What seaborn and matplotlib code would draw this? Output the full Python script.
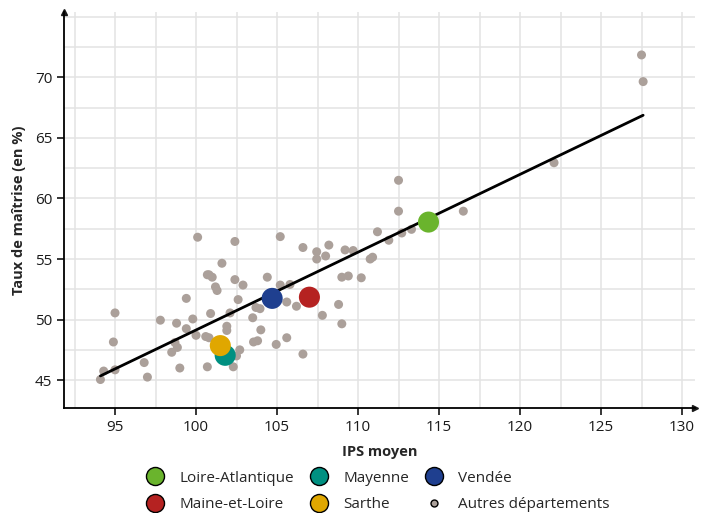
import numpy as np
import pandas as pd
import matplotlib
matplotlib.use("Agg")
import matplotlib.pyplot as plt
from matplotlib.lines import Line2D
from matplotlib.ticker import MultipleLocator, FixedLocator
import seaborn as sns

# autres departements (IPS moyen, taux de maitrise en %)
ips_autres = [100.1, 100.7, 99.4, 95.0, 97.8, 98.8, 99.8, 99.4, 100.0, 100.6,
              94.9, 98.7, 98.85, 98.5, 96.8, 94.3, 95.0, 99.0, 100.7, 97.0,
              94.1,
              102.4, 105.2, 106.6, 107.45, 107.45, 101.6, 100.8, 101.0, 102.4, 104.4,
              102.9, 101.2, 101.3, 105.2, 105.8, 102.6, 105.6, 106.2, 103.95, 103.7,
              100.9, 102.1, 103.5, 101.9, 101.9, 104.0, 103.55, 103.8, 105.6, 104.95,
              102.7, 102.5, 102.3, 106.6, 100.8,
              112.5, 112.5, 111.2, 112.7, 113.3, 111.9, 108.2, 108.0, 109.2, 109.7,
              110.75, 110.9, 109.0, 109.4, 110.2, 108.8, 107.8, 109.0,
              127.5, 127.6, 122.1, 116.5]
taux_autres = [56.8, 53.7, 51.75, 50.55, 49.95, 49.7, 50.05, 49.25, 48.7, 48.6,
               48.15, 48.1, 47.7, 47.3, 46.45, 45.75, 45.85, 46.0, 46.1, 45.25,
               45.05,
               56.45, 56.85, 55.95, 55.6, 55.0, 54.65, 53.7, 53.5, 53.3, 53.5,
               52.85, 52.7, 52.4, 52.85, 52.9, 51.65, 51.45, 51.1, 50.9, 51.0,
               50.5, 50.55, 50.15, 49.45, 49.1, 49.15, 48.15, 48.25, 48.5, 47.95,
               47.5, 47.0, 46.1, 47.15, 48.5,
               61.5, 58.95, 57.25, 57.15, 57.45, 56.55, 56.15, 55.25, 55.75, 55.7,
               55.0, 55.15, 53.5, 53.6, 53.45, 51.25, 50.35, 49.65,
               71.85, 69.65, 62.95, 58.95]

# departements de la region
depts = ["Loire-Atlantique", "Maine-et-Loire", "Mayenne", "Sarthe", "Vendée"]
ips_depts = [114.35, 107.0, 101.8, 101.5, 104.7]
taux_depts = [58.05, 51.85, 47.05, 47.85, 51.75]
couleurs = ["#6ab42d", "#b52221", "#009081", "#e0a700", "#1f3f8f"]

x_ticks = [95, 100, 105, 110, 115, 120, 125, 130]
y_ticks = [45, 50, 55, 60, 65, 70]

gris = "#aba09a"

autres = pd.DataFrame({"ips": ips_autres, "taux": taux_autres})
region = pd.DataFrame({"ips": ips_depts, "taux": taux_depts, "dept": depts})
tous = pd.concat([autres, region[["ips", "taux"]]], ignore_index=True)

sns.set_theme(style="white")
plt.rcParams["font.family"] = ["Open Sans", "DejaVu Sans"]

fig = plt.figure(figsize=(7.07, 5.13), dpi=100)
ax = fig.add_axes([0.0905, 0.2047, 0.8925, 0.772])

sns.scatterplot(data=autres, x="ips", y="taux", color=gris, s=42,
                edgecolor="none", ax=ax, zorder=3, legend=False)
# droite de regression sur tous les departements
sns.regplot(data=tous, x="ips", y="taux", scatter=False, ci=None,
            truncate=True, color="black", line_kws={"linewidth": 2, "zorder": 4},
            ax=ax)
sns.scatterplot(data=region, x="ips", y="taux", hue="dept", hue_order=depts,
                palette=couleurs, s=230, edgecolor="none", ax=ax, zorder=5,
                legend=False)

ax.set_xlim(91.85, 130.8)
ax.set_ylim(42.7, 75.4)
ax.xaxis.set_major_locator(FixedLocator(x_ticks))
ax.yaxis.set_major_locator(FixedLocator(y_ticks))
ax.xaxis.set_minor_locator(MultipleLocator(2.5))
ax.yaxis.set_minor_locator(MultipleLocator(2.5))
ax.grid(True, which="both", color="#e3e3e3", linewidth=1.1, zorder=0)
ax.set_axisbelow(True)

for s in ["top", "right"]:
    ax.spines[s].set_visible(False)
for s in ["left", "bottom"]:
    ax.spines[s].set_color("black")
    ax.spines[s].set_linewidth(1.3)
ax.plot(1, 0, ">k", markersize=4, transform=ax.transAxes, clip_on=False)
ax.plot(0, 1, "^k", markersize=4, transform=ax.transAxes, clip_on=False)

ax.tick_params(axis="both", which="major", length=5, width=1.1, color="black",
               labelsize=11, labelcolor="#1a1a1a", direction="out",
               bottom=True, left=True)
ax.tick_params(axis="both", which="minor", length=0)

ax.set_xlabel("IPS moyen", fontsize=10.5, fontweight="bold", labelpad=7)
ax.set_ylabel("Taux de maîtrise (en %)", fontsize=10.5, fontweight="bold", labelpad=6)

handles = []
for d, c in zip(depts, couleurs):
    handles.append(Line2D([], [], marker="o", linestyle="none", markersize=13,
                          markerfacecolor=c, markeredgecolor="black",
                          markeredgewidth=1, label=d))
handles.append(Line2D([], [], marker="o", linestyle="none", markersize=5,
                      markerfacecolor=gris, markeredgecolor="black",
                      markeredgewidth=1, label="Autres départements"))
fig.legend(handles=handles, loc="lower center", bbox_to_anchor=(0.53, -0.025),
           ncol=3, frameon=False, fontsize=11, handletextpad=0.6,
           columnspacing=0.6, labelspacing=0.75)

fig.savefig("out.png", dpi=100)
